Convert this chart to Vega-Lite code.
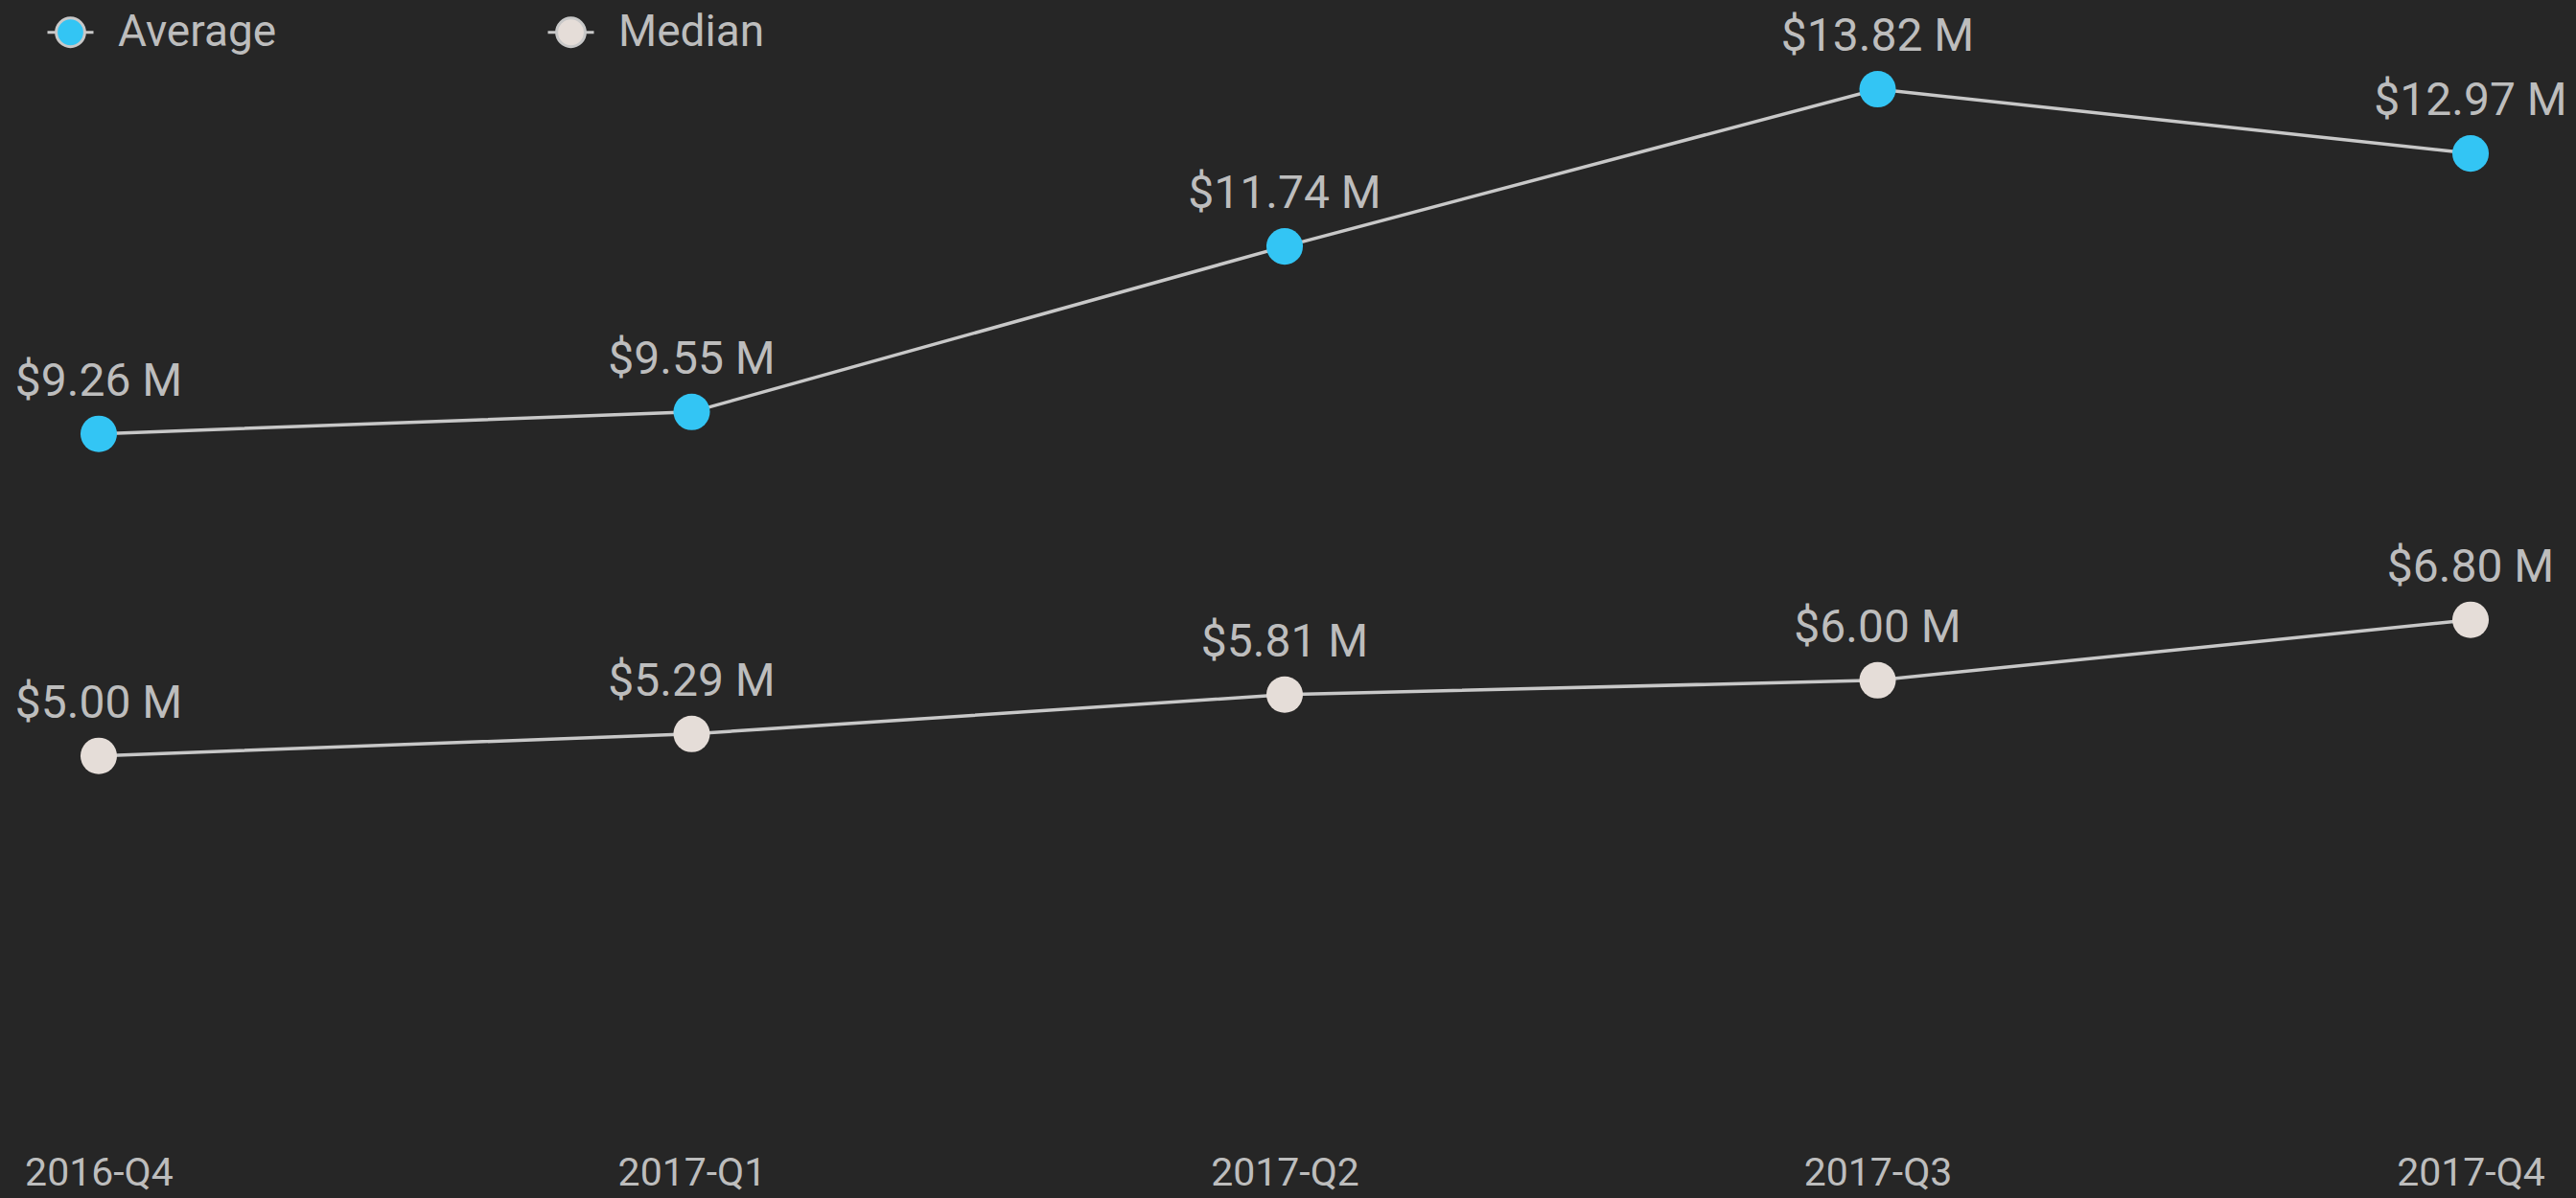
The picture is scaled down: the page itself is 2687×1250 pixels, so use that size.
{
  "$schema": "https://vega.github.io/schema/vega-lite/v6.json",
  "width": 2680,
  "height": 1183,
  "padding": {"left": 0, "right": 7, "top": 0, "bottom": 6},
  "background": "#262626",
  "config": {
    "view": {"stroke": null},
    "font": "Roboto"
  },
  "data": {
    "values": [
      {"quarter": "2016-Q4", "series": "Average", "value": 9.26, "label": "$9.26 M"},
      {"quarter": "2017-Q1", "series": "Average", "value": 9.55, "label": "$9.55 M"},
      {"quarter": "2017-Q2", "series": "Average", "value": 11.74, "label": "$11.74 M"},
      {"quarter": "2017-Q3", "series": "Average", "value": 13.82, "label": "$13.82 M"},
      {"quarter": "2017-Q4", "series": "Average", "value": 12.97, "label": "$12.97 M"},
      {"quarter": "2016-Q4", "series": "Median", "value": 5.00, "label": "$5.00 M"},
      {"quarter": "2017-Q1", "series": "Median", "value": 5.29, "label": "$5.29 M"},
      {"quarter": "2017-Q2", "series": "Median", "value": 5.81, "label": "$5.81 M"},
      {"quarter": "2017-Q3", "series": "Median", "value": 6.00, "label": "$6.00 M"},
      {"quarter": "2017-Q4", "series": "Median", "value": 6.80, "label": "$6.80 M"}
    ]
  },
  "encoding": {
    "x": {
      "field": "quarter",
      "type": "ordinal",
      "scale": {"type": "point", "padding": 0.1665},
      "axis": {
        "title": null,
        "domain": false,
        "ticks": false,
        "grid": false,
        "labelAngle": 0,
        "labelFont": "Roboto",
        "labelFontSize": 41,
        "labelColor": "#BDBDBD",
        "labelPadding": 21
      }
    },
    "y": {
      "field": "value",
      "type": "quantitative",
      "scale": {"domain": [0, 15], "nice": false, "zero": true},
      "axis": null
    }
  },
  "layer": [
    {
      "mark": {"type": "line", "color": "#C8C8C8", "strokeWidth": 3.5},
      "encoding": {"detail": {"field": "series"}}
    },
    {
      "mark": {"type": "point", "filled": true, "opacity": 1, "size": 1450, "shape": "circle"},
      "encoding": {
        "color": {
          "field": "series",
          "type": "nominal",
          "scale": {"domain": ["Average", "Median"], "range": ["#33C5F4", "#E5DDD8"]},
          "legend": {
            "title": null,
            "orient": "none",
            "legendX": 48,
            "legendY": 8,
            "direction": "horizontal",
            "symbolType": "M-1,0L-0.62,0M0.62,0L1,0M0.62,0A0.62,0.62,0,1,1,-0.62,0A0.62,0.62,0,1,1,0.62,0Z",
            "symbolSize": 2304,
            "symbolStrokeColor": "#C8C8C8",
            "symbolStrokeWidth": 3,
            "symbolOpacity": 1,
            "labelFont": "Roboto",
            "labelFontSize": 46,
            "labelColor": "#BDBDBD",
            "labelOffset": 24,
            "labelLimit": 500,
            "columnPadding": 276
          }
        }
      }
    },
    {
      "mark": {"type": "text", "font": "Roboto", "fontSize": 48, "color": "#BDBDBD", "baseline": "alphabetic", "dy": -40},
      "encoding": {"text": {"field": "label"}}
    }
  ]
}
